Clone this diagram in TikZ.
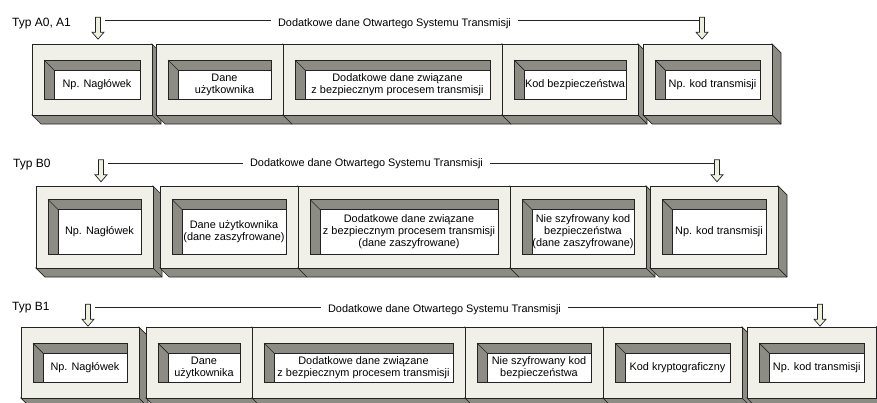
\documentclass[tikz,border=0pt]{standalone}
\usepackage{fontspec}
\setmainfont{Liberation Sans}
\usetikzlibrary{fit}
\definecolor{LICO}{RGB}{240,240,232}
\definecolor{SZ}{RGB}{140,140,133}
\definecolor{JA}{RGB}{238,240,222}
\definecolor{OB}{RGB}{35,35,35}

% strzalka w dol, (-l)/(-p) to punkty dojscia linii
\tikzset{
  strzalka/.pic={
    \filldraw[fill=JA, draw=OB, line width=0.7pt]
      (-2.5,-3.5) -- (2.5,-3.5) -- (2.5,11.5) -- (6,11.5) -- (0,18.5)
      -- (-6,11.5) -- (-2.5,11.5) -- cycle;
    \coordinate (-l) at (-2.5,0);
    \coordinate (-p) at (7,0);
  }
}

% bryla z oknem: nazwa, x1, y1, x2, y2, wciecie okna, tekst
\newcommand{\ramka}[7]{%
  \filldraw[fill=SZ, draw=OB, line width=0.7pt]
    (#4,#3) -- ++(9,9) -- ++(0,#5-#3) -- ++(#2-#4,0) -- (#2,#5) -- (#4,#5) -- cycle;
  \draw[OB, line width=0.7pt] (#4,#5) -- ++(9,9);
  \node[lico, fit={(#2,#3) (#4,#5)}] (#1) {};
  \filldraw[fill=SZ, draw=OB, line width=0.7pt] (#2+12,#3+#6) rectangle (#4-12,#5-#6);
  \draw[OB, line width=0.7pt] (#2+12,#3+#6) -- ++(10,10);
  \node[okno, fit={(#2+22,#3+#6+10) (#4-12,#5-#6)}] (#1o) {};
  \node[tekst] (#1t) at (#1o) {#7};
}

\begin{document}
\begin{tikzpicture}[
  x=1pt, y=-1pt,
  lico/.style={draw=OB, fill=LICO, line width=0.7pt, inner sep=0pt},
  okno/.style={draw=OB, fill=white, line width=0.7pt, inner sep=0pt},
  tekst/.style={align=center, font=\fontsize{10.9}{12}\selectfont, inner sep=0pt},
  opis/.style={font=\fontsize{10.9}{12}\selectfont, inner xsep=7pt, inner ysep=0pt},
  tytul/.style={font=\fontsize{12}{14}\selectfont, inner sep=0pt},
  linia/.style={draw=OB, line width=0.8pt}
]
\useasboundingbox (0,0) rectangle (877,402);
\clip (0,0) rectangle (877,402);

% Typ A0, A1
\node[tytul, anchor=base west] (tA) at (12,26.5) {Typ A0, A1};
\pic (sA1) at (98,20.7) {strzalka};
\pic (sA2) at (702,20.7) {strzalka};
\node[opis, anchor=base] (oA) at (394.5,26.5) {Dodatkowe dane Otwartego Systemu Transmisji};
\draw[linia] (sA1-p) -- (sA1-p -| oA.west);
\draw[linia] (oA.east |- sA2-l) -- (sA2-l);

\ramka{a1}{32}{44}{152}{115}{16}{Np. Nagłówek}
\ramka{a2}{156}{44}{283}{115}{16}{Dane\\użytkownika}
\ramka{a3}{283}{44}{502}{115}{16}{Dodatkowe dane związane\\z bezpiecznym procesem transmisji}
\ramka{a4}{502}{44}{638}{115}{16}{Kod bezpieczeństwa}
\ramka{a5}{643}{44}{772}{115}{16}{Np. kod transmisji}

% Typ B0
\node[tytul, anchor=base west] (tB) at (13,167) {Typ B0};
\pic (sB1) at (101,163.3) {strzalka};
\pic (sB2) at (717,163.3) {strzalka};
\node[opis, anchor=base] (oB) at (366.5,166.7) {Dodatkowe dane Otwartego Systemu Transmisji};
\draw[linia] (sB1-p) -- (sB1-p -| oB.west);
\draw[linia] (oB.east |- sB2-l) -- (sB2-l);

\ramka{b1}{36}{186}{153}{268}{13.5}{Np. Nagłówek}
\ramka{b2}{160}{186}{298}{268}{13.5}{Dane użytkownika\\(dane zaszyfrowane)}
\ramka{b3}{298}{186}{510}{268}{13.5}{Dodatkowe dane związane\\z bezpiecznym procesem transmisji\\(dane zaszyfrowane)}
\ramka{b4}{510}{186}{646}{268}{13.5}{Nie szyfrowany kod\\bezpieczeństwa\\(dane zaszyfrowane)}
\ramka{b5}{650}{186}{778}{268}{13.5}{Np. kod transmisji}

% Typ B1
\node[tytul, anchor=base west] (tC) at (12,310.5) {Typ B1};
\pic (sC1) at (88,307.7) {strzalka};
\pic (sC2) at (820,307.7) {strzalka};
\node[opis, anchor=base] (oC) at (444.5,312.3) {Dodatkowe dane Otwartego Systemu Transmisji};
\draw[linia] (sC1-p) -- (sC1-p -| oC.west);
\draw[linia] (oC.east |- sC2-l) -- (sC2-l);

\ramka{c1}{21}{327}{139}{398}{16}{Np. Nagłówek}
\ramka{c2}{146}{327}{252}{398}{16}{Dane\\użytkownika}
\ramka{c3}{252}{327}{465}{398}{16}{Dodatkowe dane związane\\z bezpiecznym procesem transmisji}
\ramka{c4}{465}{327}{603}{398}{16}{Nie szyfrowany kod\\bezpieczeństwa}
\ramka{c5}{603}{327}{742}{398}{16}{Kod kryptograficzny}
\ramka{c6}{747}{327}{876.5}{398}{16}{Np. kod transmisji}
\end{tikzpicture}
\end{document}
